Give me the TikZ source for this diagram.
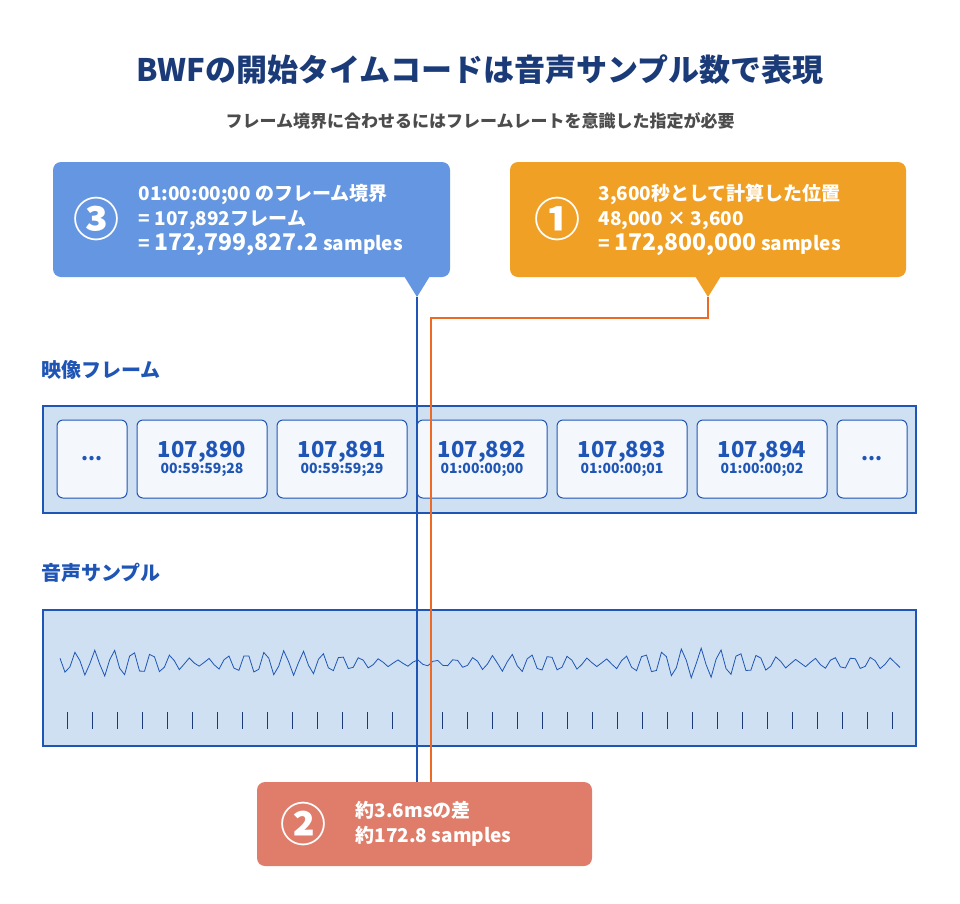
\documentclass[tikz,border=0pt]{standalone}
\usepackage{fontspec}
\setmainfont{Noto Sans CJK JP}
\definecolor{navy}{HTML}{1A3A78}
\definecolor{lineblue}{HTML}{1F55B5}
\definecolor{stripfill}{HTML}{CFE0F2}
\definecolor{boxfill}{HTML}{F4F8FD}
\definecolor{callblue}{HTML}{6496E1}
\definecolor{callorange}{HTML}{F0A024}
\definecolor{callred}{HTML}{DF7D6A}
\definecolor{markorange}{HTML}{EC6A24}
\tikzset{
  strip/.style={draw=lineblue,fill=stripfill,line width=1.2pt},
  frame/.style={draw=lineblue,fill=boxfill,rounded corners=6pt,line width=1pt,minimum height=78pt,align=center,text=lineblue,font=\bfseries},
  callout/.style={rounded corners=8pt,text=white,font=\bfseries\fontsize{19}{25}\selectfont,align=left,anchor=west},
  heading/.style={anchor=west,text=lineblue,font=\bfseries\fontsize{20}{24}\selectfont}
}
\begin{document}
\begin{tikzpicture}[x=1pt,y=-1pt]
  \useasboundingbox (0,0) rectangle (960,903);
  \node[text=navy,font=\bfseries\fontsize{31}{36}\selectfont] (title) at (480,70) {BWFの開始タイムコードは音声サンプル数で表現};
  \node[text=black!70,font=\bfseries\fontsize{17}{20}\selectfont] (subtitle) at (480,121) {フレーム境界に合わせるにはフレームレートを意識した指定が必要};
  % callouts
  \fill[callblue,rounded corners=8pt] (53,162) rectangle (450,277);
  \fill[callblue] (404,276) -- (417,297) coordinate (tipA) -- (430,276) -- cycle;
  \node[text=white,font=\bfseries\fontsize{46}{46}\selectfont] (numC) at (96,219) {③};
  \node[callout] (textC) at (135,220) {01:00:00;00 のフレーム境界\\= 107,892フレーム\\= {\fontsize{23}{25}\selectfont 172,799,827.2} samples};
  \fill[callorange,rounded corners=8pt] (510,162) rectangle (906,277);
  \fill[callorange] (695,276) -- (708,297) coordinate (tipB) -- (721,276) -- cycle;
  \node[text=white,font=\bfseries\fontsize{46}{46}\selectfont] (numA) at (557,219) {①};
  \node[callout] (textA) at (595,220) {3,600秒として計算した位置\\48,000 × 3,600\\= {\fontsize{23}{25}\selectfont 172,800,000} samples};
  % video frames
  \node[heading] (vlabel) at (38,370) {映像フレーム};
  \draw[strip] (43,406) rectangle (916,513);
  \node[frame,minimum width=70pt] (f0) at (92,459) {\fontsize{20}{20}\selectfont ...};
  \foreach \n/\x/\t in {0/202/00:59:59;28,1/342/00:59:59;29,2/482/01:00:00;00,3/622/01:00:00;01,4/762/01:00:00;02} {
    \node[frame,minimum width=130pt] (fr\n) at (\x,459) {{\fontsize{22}{28}\selectfont 107,89\n}\\{\fontsize{14}{18}\selectfont \t}};
  }
  \node[frame,minimum width=70pt] (f6) at (872,459) {\fontsize{20}{20}\selectfont ...};
  % audio samples
  \node[heading] (alabel) at (38,573) {音声サンプル};
  \draw[strip] (43,610) rectangle (916,746);
  \draw[lineblue,line width=0.8pt] plot[samples=170,domain=60:900,variable=\x]
    ({\x},{663-(3+12*abs(sin(\x*0.9))*abs(sin(\x*0.37+20)))*sin(19*(\x-450))});
  \foreach \x in {67,92,...,892} {
    \draw[navy,line width=1pt] (\x,712) -- (\x,729);
  }
  % bottom callout
  \fill[callred,rounded corners=8pt] (257,782) rectangle (592,866);
  \coordinate (botA) at (417,782);
  \coordinate (botB) at (431,782);
  \node[text=white,font=\bfseries\fontsize{46}{46}\selectfont] (numB) at (303,824) {②};
  \node[callout] (textB) at (352,824) {約3.6msの差\\約172.8 samples};
  % markers
  \draw[lineblue,line width=1.5pt] (tipA) -- (botA);
  \draw[markorange,line width=1.5pt] (tipB) -- (708,318) -| (botB);
\end{tikzpicture}
\end{document}
